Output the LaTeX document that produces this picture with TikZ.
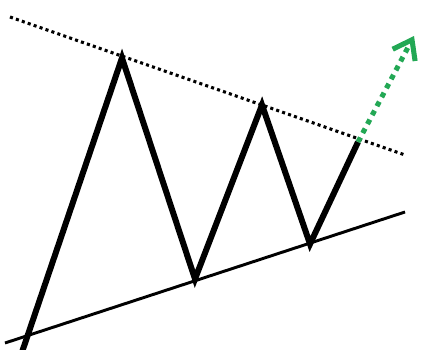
\documentclass[tikz,border=0pt]{standalone}
\usepackage{tikz}
\usetikzlibrary{arrows.meta}
\definecolor{breakgreen}{RGB}{35,168,85}

\begin{document}
\begin{tikzpicture}[
    x=0.75pt, y=-0.75pt,
    price/.style={line width=4.5pt, line join=miter, line cap=butt},
    support/.style={line width=2.2pt},
    resist/.style={line width=2.3pt, dash pattern=on 2.3pt off 2.4pt},
    breakout/.style={breakgreen, line width=3.8pt, dash pattern=on 3.8pt off 3.8pt, -{Straight Barb[length=13pt, width=19pt, line width=3.8pt]}}
]
\useasboundingbox (0,0) rectangle (427,349);
\clip (0,0) rectangle (427,349);

% Trend lines
\coordinate (r1) at (10,17);
\coordinate (r2) at (405,155);
\coordinate (s1) at (5,343);
\coordinate (s2) at (405,212);
\draw[resist] (r1) -- (r2);
\draw[support] (s1) -- (s2);

% Price swings
\coordinate (p0) at (20,358);
\coordinate (p1) at (122,58);
\coordinate (p2) at (195,279);
\coordinate (p3) at (262,105);
\coordinate (p4) at (310,244);
\coordinate (p5) at (358,142);
\draw[price] (p0) -- (p1) -- (p2) -- (p3) -- (p4) -- (p5);

% Breakout
\coordinate (tip) at (414,36);
\draw[breakout] (p5) -- (tip);

\end{tikzpicture}
\end{document}
